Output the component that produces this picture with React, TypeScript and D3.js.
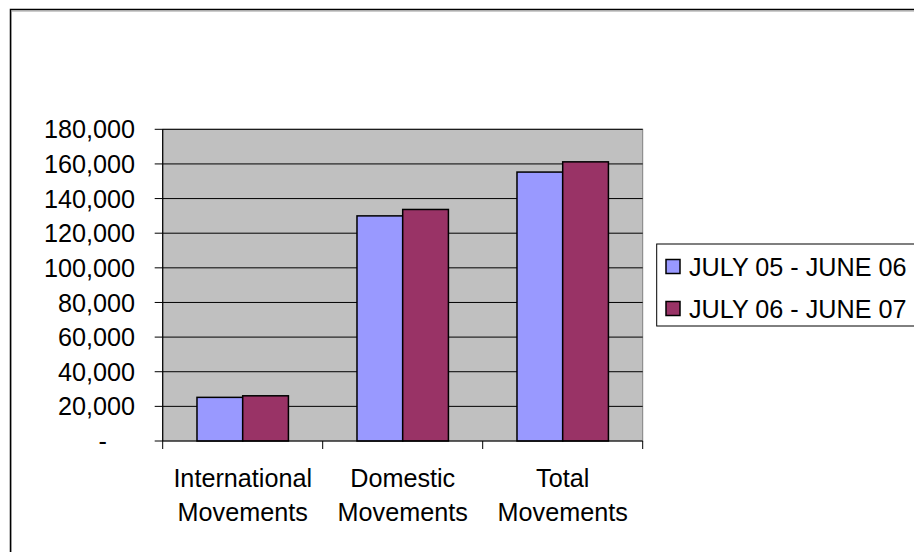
import React from "react";
import * as d3 from "d3";

const categories: string[][] = [
  ["International", "Movements"],
  ["Domestic", "Movements"],
  ["Total", "Movements"],
];
const seriesNames = ["JULY 05 - JUNE 06", "JULY 06 - JUNE 07"];
const series1 = [25200, 130000, 155300];
const series2 = [26100, 133700, 161200];
const yTicks = [0, 20000, 40000, 60000, 80000, 100000, 120000, 140000, 160000, 180000];
const colors = ["#9999FF", "#993366"];

const W = 914;
const H = 552;
const FONT = "'Liberation Sans', Arial, sans-serif";
const FS = 25.2;

export default function App() {
  const plot = { x0: 162.7, x1: 642.7, y0: 129.3, y1: 441 };
  const x = d3
    .scaleBand<number>()
    .domain(categories.map((_, i) => i))
    .range([plot.x0, plot.x1])
    .paddingInner(0)
    .paddingOuter(0);
  const y = d3.scaleLinear().domain([0, 180000]).range([plot.y1, plot.y0]);
  const bw = x.bandwidth() / 3.5;
  const fmt = d3.format(",");
  const data = [series1, series2];

  return (
    <svg
      width={W}
      height={H}
      style={{ position: "absolute", left: 0, top: 0, background: "#fff" }}
      fontFamily={FONT}
    >
      {/* outer frame */}
      <rect x={10.5} y={9.5} width={W + 20} height={H + 20} fill="#fff" stroke="#000" strokeWidth={1.5} />
      <line x1={11.5} y1={11} x2={W} y2={11} stroke="#9a9a9a" strokeWidth={1} />
      <line x1={11.5} y1={11} x2={11.5} y2={H} stroke="#9a9a9a" strokeWidth={1} />

      {/* plot area */}
      <rect x={plot.x0} y={plot.y0} width={plot.x1 - plot.x0} height={plot.y1 - plot.y0} fill="#C0C0C0" stroke="#808080" strokeWidth={1} />
      {yTicks.map((t) => (
        <g key={t}>
          {t > 0 && (
            <line x1={plot.x0} x2={plot.x1} y1={y(t)} y2={y(t)} stroke="#000" strokeWidth={1} />
          )}
          <line x1={plot.x0 - 8} x2={plot.x0} y1={y(t)} y2={y(t)} stroke="#000" strokeWidth={1} />
          <text
            x={t === 0 ? 135 - 28 : 135}
            y={y(t)}
            dy="0.36em"
            textAnchor="end"
            fontSize={FS}
            fill="#000"
          >
            {t === 0 ? "-" : fmt(t)}
          </text>
        </g>
      ))}

      {/* bars */}
      {data.map((s, si) =>
        s.map((v, ci) => (
          <rect
            key={`${si}-${ci}`}
            x={(x(ci) as number) + bw * 0.75 + si * bw}
            y={y(v)}
            width={bw}
            height={y(0) - y(v)}
            fill={colors[si]}
            stroke="#000"
            strokeWidth={1.5}
          />
        ))
      )}

      {/* axes */}
      <line x1={plot.x0} x2={plot.x0} y1={plot.y0} y2={plot.y1} stroke="#000" strokeWidth={1.2} />
      <line x1={plot.x0} x2={plot.x1} y1={plot.y1} y2={plot.y1} stroke="#000" strokeWidth={1.2} />
      {[0, 1, 2, 3].map((i) => {
        const xx = i < 3 ? (x(i) as number) : plot.x1;
        return <line key={i} x1={xx} x2={xx} y1={plot.y1} y2={plot.y1 + 8} stroke="#000" strokeWidth={1} />;
      })}
      {categories.map((lines, i) => (
        <text
          key={i}
          x={(x(i) as number) + x.bandwidth() / 2}
          textAnchor="middle"
          fontSize={FS}
          fill="#000"
        >
          {lines.map((l, li) => (
            <tspan key={li} x={(x(i) as number) + x.bandwidth() / 2} y={486.7 + li * 34}>
              {l}
            </tspan>
          ))}
        </text>
      ))}

      {/* legend */}
      <rect x={656.7} y={244} width={300} height={82} fill="#fff" stroke="#000" strokeWidth={1} />
      {seriesNames.map((n, i) => {
        const cy = 266.5 + i * 42;
        return (
          <g key={n}>
            <rect x={666} y={cy - 7} width={14} height={14} fill={colors[i]} stroke="#000" strokeWidth={1.5} />
            <text x={689} y={cy} dy="0.36em" fontSize={FS} fill="#000">
              {n}
            </text>
          </g>
        );
      })}
    </svg>
  );
}
